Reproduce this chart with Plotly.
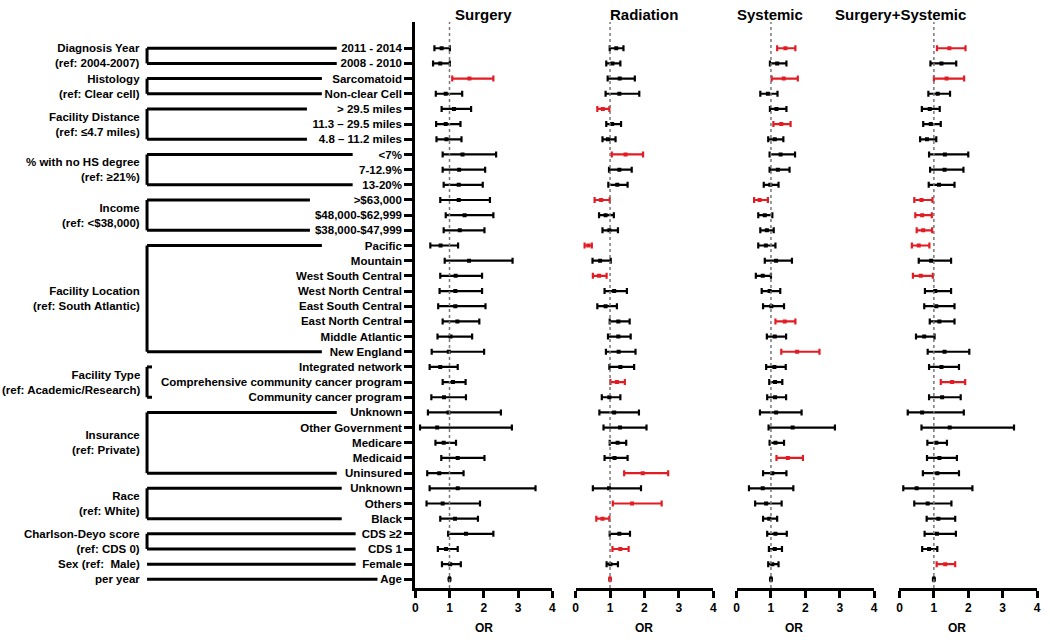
import plotly.graph_objects as go

# rows top to bottom
ROW_LABELS = [
    "2011 - 2014", "2008 - 2010", "Sarcomatoid", "Non-clear Cell",
    "&gt; 29.5 miles", "11.3 – 29.5 miles", "4.8 – 11.2 miles",
    "&lt;7%", "7-12.9%", "13-20%",
    "&gt;$63,000", "$48,000-$62,999", "$38,000-$47,999",
    "Pacific", "Mountain", "West South Central", "West North Central",
    "East South Central", "East North Central", "Middle Atlantic", "New England",
    "Integrated network", "Comprehensive community cancer program", "Community cancer program",
    "Unknown", "Other Government", "Medicare", "Medicaid", "Uninsured",
    "Unknown", "Others", "Black",
    "CDS ≥2", "CDS 1", "Female", "Age",
]

SURGERY_OR = [0.77, 0.73, 1.58, 0.89, 1.13, 0.89, 0.91, 1.38, 1.28, 1.27, 1.27, 1.44,
              1.30, 0.74, 1.57, 1.18, 1.17, 1.17, 1.23, 1.03, 0.98, 0.73, 1.10, 0.84,
              0.97, 0.64, 0.83, 1.24, 0.70, 1.24, 0.80, 1.16, 1.48, 0.90, 1.02, 1.00]
SURGERY_LO = [0.56, 0.52, 1.08, 0.60, 0.77, 0.61, 0.62, 0.80, 0.80, 0.83, 0.73, 0.89,
              0.83, 0.44, 0.86, 0.73, 0.71, 0.67, 0.80, 0.65, 0.48, 0.42, 0.80, 0.47,
              0.37, 0.14, 0.59, 0.76, 0.35, 0.42, 0.33, 0.73, 0.96, 0.66, 0.78, 0.99]
SURGERY_HI = [1.01, 1.01, 2.28, 1.37, 1.63, 1.32, 1.35, 2.36, 2.04, 1.97, 2.18, 2.28,
              2.02, 1.25, 2.84, 1.95, 1.95, 2.05, 1.87, 1.66, 2.01, 1.24, 1.47, 1.48,
              2.50, 2.82, 1.19, 2.02, 1.41, 3.51, 1.89, 1.83, 2.28, 1.24, 1.33, 1.01]
SURGERY_SIG = [3]

RADIATION_OR = [1.18, 1.07, 1.28, 1.27, 0.79, 1.06, 0.94, 1.45, 1.27, 1.21, 0.74, 0.87,
                0.98, 0.37, 0.71, 0.68, 1.12, 0.87, 1.24, 1.24, 1.25, 1.30, 1.20, 0.98,
                1.12, 1.29, 1.22, 1.13, 1.95, 0.97, 1.64, 0.78, 1.27, 1.30, 1.01, 1.00]
RADIATION_LO = [0.99, 0.89, 0.93, 0.87, 0.63, 0.89, 0.78, 1.05, 0.97, 0.95, 0.55, 0.68,
                0.78, 0.26, 0.49, 0.50, 0.84, 0.63, 0.99, 0.94, 0.88, 0.98, 1.01, 0.76,
                0.69, 0.81, 0.99, 0.84, 1.41, 0.50, 1.08, 0.60, 0.99, 1.07, 0.90, 0.99]
RADIATION_HI = [1.39, 1.30, 1.72, 1.85, 0.98, 1.32, 1.16, 1.96, 1.63, 1.51, 0.99, 1.11,
                1.23, 0.47, 1.02, 0.90, 1.49, 1.20, 1.57, 1.60, 1.74, 1.70, 1.43, 1.30,
                1.84, 2.06, 1.47, 1.51, 2.69, 1.90, 2.50, 0.98, 1.58, 1.54, 1.23, 1.01]
RADIATION_SIG = [5, 8, 11, 14, 16, 23, 29, 31, 32, 34, 36]

SYSTEMIC_OR = [1.42, 1.18, 1.37, 0.91, 1.16, 1.30, 1.11, 1.28, 1.20, 0.98, 0.67, 0.82,
               0.88, 0.85, 1.15, 0.76, 0.96, 1.01, 1.40, 1.11, 1.76, 1.10, 1.12, 1.12,
               1.15, 1.63, 1.13, 1.49, 1.04, 0.76, 0.86, 0.95, 1.13, 1.11, 1.04, 1.00]
SYSTEMIC_LO = [1.18, 0.97, 1.02, 0.69, 0.97, 1.07, 0.92, 0.96, 0.96, 0.79, 0.51, 0.63,
               0.69, 0.63, 0.82, 0.56, 0.73, 0.77, 1.13, 0.88, 1.30, 0.86, 0.95, 0.89,
               0.68, 0.93, 0.96, 1.16, 0.77, 0.36, 0.54, 0.77, 0.89, 0.94, 0.92, 0.99]
SYSTEMIC_HI = [1.71, 1.45, 1.78, 1.19, 1.45, 1.57, 1.36, 1.70, 1.54, 1.22, 0.91, 1.04,
               1.08, 1.13, 1.61, 1.00, 1.27, 1.38, 1.71, 1.44, 2.41, 1.43, 1.33, 1.44,
               1.89, 2.86, 1.38, 1.93, 1.45, 1.65, 1.31, 1.18, 1.46, 1.32, 1.22, 1.01]
SYSTEMIC_SIG = [1, 3, 6, 11, 19, 21, 28]

COMBINED_OR = [1.45, 1.22, 1.37, 1.11, 0.88, 0.91, 0.80, 1.32, 1.31, 1.15, 0.64, 0.66,
               0.69, 0.56, 0.92, 0.62, 1.04, 1.07, 1.16, 0.72, 1.31, 1.22, 1.53, 1.24,
               0.66, 1.46, 1.07, 1.16, 1.10, 0.50, 0.82, 1.13, 1.09, 0.86, 1.33, 1.00]
COMBINED_LO = [1.09, 0.90, 1.00, 0.84, 0.65, 0.69, 0.60, 0.86, 0.89, 0.85, 0.43, 0.46,
               0.50, 0.36, 0.56, 0.39, 0.74, 0.72, 0.88, 0.48, 0.82, 0.86, 1.20, 0.86,
               0.24, 0.64, 0.81, 0.80, 0.68, 0.11, 0.43, 0.79, 0.73, 0.66, 1.08, 0.99]
COMBINED_HI = [1.92, 1.65, 1.88, 1.47, 1.17, 1.20, 1.07, 2.00, 1.86, 1.60, 0.96, 0.94,
               0.95, 0.87, 1.50, 0.97, 1.50, 1.60, 1.60, 1.02, 2.03, 1.73, 1.91, 1.78,
               1.87, 3.33, 1.38, 1.67, 1.73, 2.12, 1.51, 1.62, 1.64, 1.10, 1.62, 1.01]
COMBINED_SIG = [1, 3, 11, 12, 13, 14, 16, 23, 35]

PANEL_TITLES = ["Surgery", "Radiation", "Systemic", "Surgery+Systemic"]

# left-hand groups: label, first row, last row (1-based)
GROUP_LABELS = [
    "Diagnosis Year<br>(ref: 2004-2007)",
    "Histology<br>(ref: Clear cell)",
    "Facility Distance<br>(ref: ≤4.7 miles)",
    "% with no HS degree<br>(ref: ≥21%)",
    "Income<br>(ref: &lt;$38,000)",
    "Facility Location<br>(ref: South Atlantic)",
    "Facility Type<br>(ref: Academic/Research)",
    "Insurance<br>(ref: Private)",
    "Race<br>(ref: White)",
    "Charlson-Deyo score<br>(ref: CDS 0)",
    "Sex (ref:  Male)",
    "per year",
]
GROUP_FIRST = [1, 3, 5, 8, 11, 14, 22, 25, 30, 33, 35, 36]
GROUP_LAST = [2, 4, 7, 10, 13, 21, 24, 29, 32, 34, 35, 36]
GROUP_LINE_END = [336, 321, 306, 352, 309, 321, 150, 336, 341, 355, 355, 377]

W, H = 1050, 640
RED = "#e31b23"
FONT = "Liberation Sans, Arial, sans-serif"
N = len(ROW_LABELS)
ROW_Y = [N - i for i in range(1, N + 1)]
Y_RANGE = [-0.57, 36.73]
DOMAINS = [(415, 553), (576.5, 715), (738.5, 877), (902.5, 1041)]

panels = [
    (SURGERY_OR, SURGERY_LO, SURGERY_HI, SURGERY_SIG),
    (RADIATION_OR, RADIATION_LO, RADIATION_HI, RADIATION_SIG),
    (SYSTEMIC_OR, SYSTEMIC_LO, SYSTEMIC_HI, SYSTEMIC_SIG),
    (COMBINED_OR, COMBINED_LO, COMBINED_HI, COMBINED_SIG),
]

fig = go.Figure()
bold = dict(family=FONT, size=11.5, color="black", weight="bold")

for k, (est, lo, hi, sig) in enumerate(panels, start=1):
    xa = "x" if k == 1 else f"x{k}"
    ya = "y" if k == 1 else f"y{k}"
    for color, is_red in (("black", False), (RED, True)):
        idx = [i for i in range(N) if ((i + 1) in sig) == is_red]
        fig.add_trace(go.Scatter(
            x=[est[i] for i in idx],
            y=[ROW_Y[i] for i in idx],
            mode="markers",
            marker=dict(symbol="square", size=4, color=color),
            error_x=dict(
                type="data", symmetric=False,
                array=[hi[i] - est[i] for i in idx],
                arrayminus=[est[i] - lo[i] for i in idx],
                color=color, thickness=2.2, width=3,
            ),
            xaxis=xa, yaxis=ya, showlegend=False, hoverinfo="skip",
        ))
    # reference line at OR = 1
    fig.add_shape(type="line", xref=xa, yref=f"{ya} domain", x0=1, x1=1, y0=0, y1=1,
                  line=dict(color="#777777", width=1.5, dash="dot"))
    d0, d1 = DOMAINS[k - 1]
    fig.add_annotation(text=PANEL_TITLES[k - 1], xref="paper", yref="paper",
                       x=(d0 + d1) / 2 / W, y=1, yshift=8, yanchor="middle",
                       showarrow=False, font=dict(family=FONT, size=15, color="black", weight="bold"))
    fig.add_annotation(text="OR", xref="paper", yref="paper",
                       x=(d0 + d1) / 2 / W, y=0, yshift=-40, yanchor="middle",
                       showarrow=False, font=dict(family=FONT, size=12, color="black", weight="bold"))

    xaxis = dict(domain=[d0 / W, d1 / W], range=[0, 4], tickvals=[0, 1, 2, 3, 4],
                 showline=True, linewidth=3, linecolor="black", ticks="outside",
                 ticklen=7, tickwidth=2.5, tickcolor="black",
                 tickfont=dict(family=FONT, size=12, color="black", weight="bold"),
                 showgrid=False, zeroline=False, anchor=ya)
    yaxis = dict(domain=[0, 1], range=Y_RANGE, showgrid=False, zeroline=False, anchor=xa)
    if k == 1:
        yaxis.update(showline=True, linewidth=3, linecolor="black", ticks="outside",
                     ticklen=8, tickwidth=2.5, tickcolor="black",
                     tickvals=ROW_Y, ticktext=ROW_LABELS, tickfont=bold)
    else:
        yaxis.update(visible=False)
    fig.update_layout({f"xaxis{'' if k == 1 else k}": xaxis,
                       f"yaxis{'' if k == 1 else k}": yaxis})

# group brackets and labels on the left
VX = 145 / W
for label, first, last, end in zip(GROUP_LABELS, GROUP_FIRST, GROUP_LAST, GROUP_LINE_END):
    y_top = N - first
    y_bot = N - last
    line = dict(color="black", width=3)
    fig.add_shape(type="line", xref="paper", yref="y", x0=VX, x1=end / W,
                  y0=y_top, y1=y_top, line=line)
    if last != first:
        fig.add_shape(type="line", xref="paper", yref="y", x0=VX, x1=end / W,
                      y0=y_bot, y1=y_bot, line=line)
        fig.add_shape(type="line", xref="paper", yref="y", x0=VX, x1=VX,
                      y0=y_bot, y1=y_top, line=line)
    fig.add_annotation(text=label, xref="paper", yref="y", x=140 / W,
                       y=(y_top + y_bot) / 2, xanchor="right", yanchor="middle",
                       align="right", showarrow=False, font=bold)

fig.update_layout(
    width=W, height=H,
    margin=dict(l=0, r=0, t=22, b=52),
    paper_bgcolor="white", plot_bgcolor="white",
    font=dict(family=FONT, color="black"),
)

# drop the default page margin so the figure sits at the window corner
fig.write_html("out.html", config={"displayModeBar": False},
               post_script="document.body.style.margin='0';")
